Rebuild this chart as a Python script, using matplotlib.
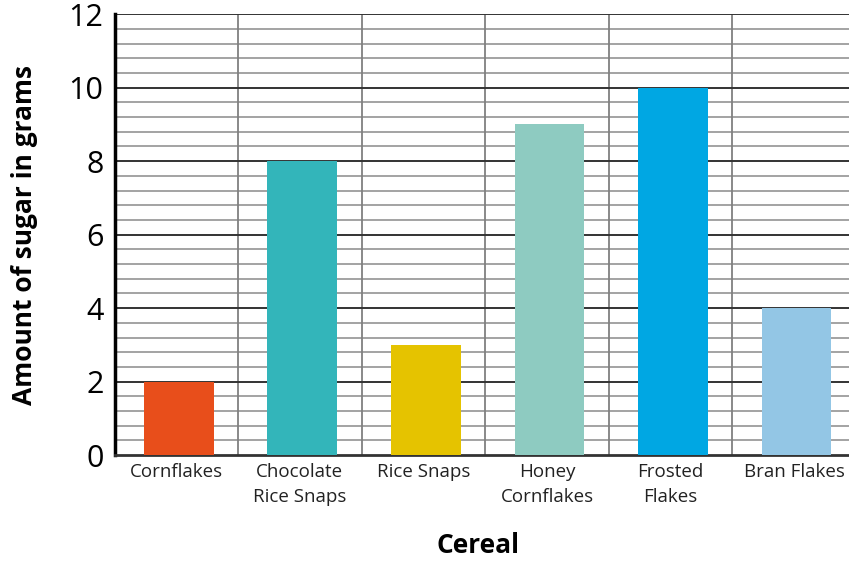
import numpy as np
import matplotlib.pyplot as plt

cereals = ["Cornflakes", "Chocolate\nRice Snaps", "Rice Snaps", "Honey\nCornflakes",
           "Frosted\nFlakes", "Bran Flakes"]
sugar = [2, 8, 3, 9, 10, 4]
colours = ["#E84E1B", "#33B5BA", "#E5C300", "#8ECBC1", "#00A7E3", "#93C6E5"]

plt.rcParams['font.family'] = ['Open Sans', 'DejaVu Sans']

fig = plt.figure(figsize=(8.49, 5.64), dpi=100)
# the plot area runs slightly past the right edge of the picture
ax = fig.add_axes([0.135, 0.193, 0.873, 0.782])

x = np.arange(len(cereals))
ax.bar(x + 0.02, sugar, width=0.565, color=colours, zorder=3)

ax.set_xlim(-0.5, len(cereals) - 0.5)
ax.set_ylim(0, 12)

# grid: light lines every 0.4, dark every 2
for y in np.arange(0.4, 12, 0.4):
    if abs(y / 2 - round(y / 2)) < 1e-6:
        continue
    ax.axhline(y, color="#8a8a8a", lw=1.1, zorder=1)
for y in range(2, 13, 2):
    ax.axhline(y, color="#333333", lw=1.4, zorder=2)
for b in np.arange(0.5, len(cereals) - 0.5, 1):
    ax.axvline(b, color="#808080", lw=1.3, zorder=1)

ax.set_yticks(range(0, 13, 2))
ax.set_xticks(x)
ax.set_xticklabels(cereals, fontsize=13.5, color="#222222", linespacing=1.45)
ax.tick_params(axis="y", labelsize=22, length=0, pad=8)
ax.tick_params(axis="x", length=0, pad=6)

for s in ["top", "right"]:
    ax.spines[s].set_visible(False)
ax.spines["left"].set_linewidth(2.5)
ax.spines["bottom"].set_linewidth(2)
ax.spines["bottom"].set_color("#333333")

ax.set_ylabel("Amount of sugar in grams", fontsize=19, fontweight="bold", labelpad=22)
ax.set_xlabel("Cereal", fontsize=19, fontweight="bold", labelpad=19)
ax.xaxis.label.set_x(0.49)

fig.savefig("out.png", dpi=100)
